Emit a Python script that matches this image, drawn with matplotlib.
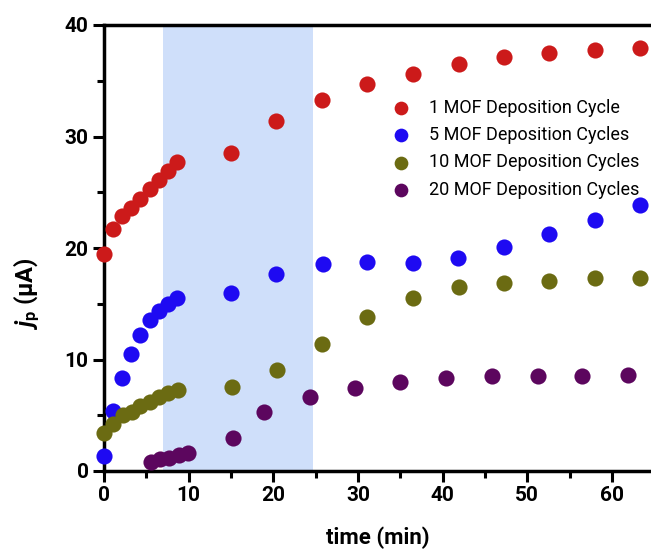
import numpy as np
import matplotlib.pyplot as plt

plt.rcParams['font.family'] = ['Roboto', 'DejaVu Sans']
plt.rcParams['mathtext.fontset'] = 'custom'
plt.rcParams['mathtext.bf'] = 'Roboto:bold'
plt.rcParams['mathtext.it'] = 'Roboto:italic'
plt.rcParams['mathtext.bfit'] = 'Roboto:italic:bold'
plt.rcParams['mathtext.rm'] = 'Roboto'

# data (time in min, current in uA)
t_1 = [0, 1.06, 2.1, 3.2, 4.25, 5.4, 6.5, 7.6, 8.6, 15.0, 20.3, 25.7,
       31.05, 36.5, 41.9, 47.2, 52.5, 58.0, 63.3]
j_1 = [19.5, 21.7, 22.9, 23.6, 24.4, 25.3, 26.1, 26.9, 27.7, 28.5, 31.4, 33.3,
       34.7, 35.6, 36.5, 37.1, 37.5, 37.8, 37.9]

t_5 = [0, 1.06, 2.1, 3.2, 4.25, 5.4, 6.5, 7.6, 8.6, 15.0, 20.3, 25.9,
       31.05, 36.5, 41.8, 47.2, 52.5, 58.0, 63.3]
j_5 = [1.35, 5.4, 8.3, 10.5, 12.2, 13.5, 14.35, 15.0, 15.5, 16.0, 17.7, 18.6,
       18.75, 18.65, 19.1, 20.1, 21.3, 22.5, 23.9]

t_10 = [0, 1.06, 2.2, 3.3, 4.3, 5.4, 6.5, 7.6, 8.7, 15.1, 20.4, 25.7,
        31.1, 36.5, 41.9, 47.2, 52.5, 58.0, 63.3]
j_10 = [3.4, 4.2, 5.0, 5.3, 5.8, 6.2, 6.65, 7.0, 7.3, 7.5, 9.05, 11.4,
        13.85, 15.5, 16.5, 16.9, 17.05, 17.3, 17.3]

t_20 = [5.6, 6.6, 7.7, 8.8, 9.95, 15.2, 18.9, 24.3, 29.7, 35.0, 40.4, 45.8,
        51.2, 56.5, 61.9]
j_20 = [0.85, 1.1, 1.2, 1.45, 1.65, 3.0, 5.3, 6.6, 7.4, 7.95, 8.35, 8.5,
        8.5, 8.55, 8.6]

labels = ['1 MOF Deposition Cycle', '5 MOF Deposition Cycles',
          '10 MOF Deposition Cycles', '20 MOF Deposition Cycles']
colors = ['#cc1a1a', '#1e0af2', '#6b6b12', '#5c065e']

fig = plt.figure(figsize=(6.51, 5.50), dpi=100)
ax = fig.add_axes([104/651, 79/550, 547/651, 446/550])

# shaded window
ax.axvspan(7.0, 24.7, color='#cfdffa', lw=0, zorder=0)

for t, j, c, lab in zip([t_1, t_5, t_10, t_20], [j_1, j_5, j_10, j_20], colors, labels):
    ax.scatter(t, j, s=135, color=c, label=lab, zorder=3, clip_on=False, linewidths=0)

ax.set_xlim(0, 64.6)
ax.set_ylim(0, 40)
ax.set_xticks([0, 10, 20, 30, 40, 50, 60])
ax.set_xticks([5, 15, 25, 35, 45, 55], minor=True)
ax.set_yticks([0, 10, 20, 30, 40])
ax.set_yticks([5, 15, 25, 35], minor=True)

for side in ['left', 'bottom', 'top']:
    ax.spines[side].set_linewidth(2.5)
ax.spines['right'].set_visible(False)

ax.tick_params(which='major', direction='out', length=8, width=2.2, labelsize=15, pad=3)
ax.tick_params(which='minor', direction='out', length=5, width=2.2)
for lbl in ax.get_xticklabels() + ax.get_yticklabels():
    lbl.set_fontweight('bold')

ax.set_xlabel('time (min)', fontsize=16, fontweight='bold', labelpad=15)
ax.set_ylabel(r'$\mathbfit{j}_{\mathbf{p}}$ ($\mathbf{\mu}$A)', fontsize=17,
              fontweight='bold')
ax.yaxis.set_label_coords(-0.113, 0.397)

ax.legend(loc='upper left', bbox_to_anchor=(0.496, 0.851), frameon=False, fontsize=13,
          handletextpad=0.6, labelspacing=0.52, borderaxespad=0, scatterpoints=1,
          markerscale=0.85)

fig.savefig('out.png', dpi=100)
